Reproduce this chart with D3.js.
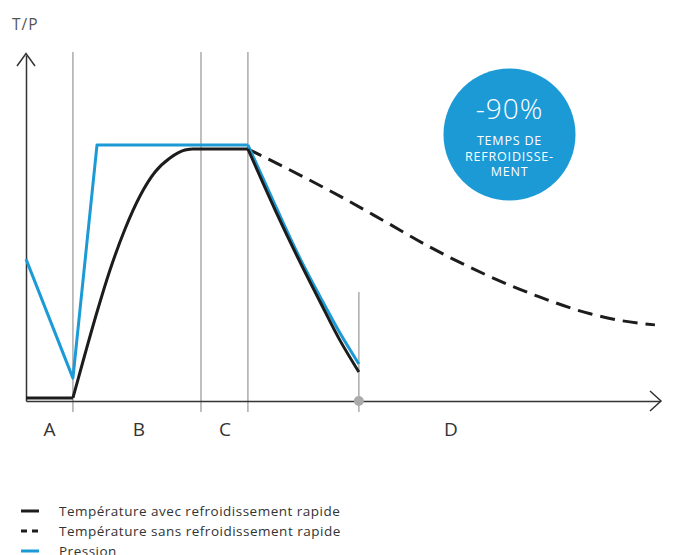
<!DOCTYPE html>
<html>
<head>
<meta charset="utf-8">
<script src="https://cdn.jsdelivr.net/npm/d3@7/dist/d3.min.js"></script>
<style>
  html, body { margin: 0; padding: 0; background: #fff; }
  svg { display: block; font-family: "Open Sans", "DejaVu Sans", sans-serif; }
</style>
</head>
<body>
<svg id="chart" width="684" height="555"></svg>
<script>
// Phase boundaries on the time axis (0–100)
const phaseBounds = [7.4, 27.6, 35.0];
const coolingEnd = 52.5;
const phaseLabels = ["A", "B", "C", "D"];
const phaseLabelPos = [3.7, 17.8, 31.4, 67.0];

// Temperature with rapid cooling, split into segments at sharp corners
const tempFast = [
  [[0, 0.9], [7.4, 0.9]],
  [[7.4, 0.9], [9.31, 13.58], [11.20, 25.72], [13.25, 37.86], [15.62, 49.71],
   [17.98, 59.25], [20.35, 66.18], [22.71, 70.23], [25.08, 72.54], [26.18, 72.83]],
  [[26.18, 72.83], [35.0, 72.83]],
  [[35.0, 72.83], [39.3, 55.2], [43.2, 40.2], [46.4, 28.6], [49.5, 17.6], [52.5, 8.4]]
];

// Temperature without rapid cooling (dashed)
const tempSlow = [
  [35.0, 72.83], [43.2, 65.3], [49.5, 59.2], [56.6, 51.9], [63.7, 44.5],
  [72.4, 36.6], [81.1, 30.0], [89.0, 25.2], [94.0, 23.2], [99.2, 22.0]
];

// Pressure: straight ramps, then a curved decay
const pressureRamp = [[0, 41.0], [7.4, 6.6], [11.2, 74.0], [35.0, 74.0]];
const pressureDecay = [[35.0, 74.0], [39.3, 56.6], [43.2, 41.3], [46.4, 30.1], [49.5, 19.7], [52.5, 10.7]];

const legendItems = [
  "Température avec refroidissement rapide",
  "Température sans refroidissement rapide",
  "Pression"
];
const badgeValue = "-90%";
const badgeLines = ["TEMPS DE", "REFROIDISSE-", "MENT"];
const axisTitle = "T/P";

const BLUE = "#1b9ad6";
const BLACK = "#1c1c1c";
const GREY = "#ababab";
const AXIS = "#333";

const svg = d3.select("#chart");
const x = d3.scaleLinear().domain([0, 100]).range([26, 660]);
const y = d3.scaleLinear().domain([0, 100]).range([401, 55]);

const smooth = d3.line().x(d => x(d[0])).y(d => y(d[1])).curve(d3.curveMonotoneX);
const straight = d3.line().x(d => x(d[0])).y(d => y(d[1]));

// Phase separators
const sepG = svg.append("g").attr("stroke", GREY).attr("stroke-width", 1.5);
phaseBounds.forEach(b => {
  sepG.append("line")
    .attr("x1", x(b)).attr("x2", x(b))
    .attr("y1", y(100.9)).attr("y2", y(-3.2));
});
sepG.append("line")
  .attr("x1", x(coolingEnd)).attr("x2", x(coolingEnd))
  .attr("y1", y(31.5)).attr("y2", y(-3.2));

// Axes
const xAxis = d3.axisBottom(x).tickValues([]).tickSizeOuter(0);
svg.append("g").attr("transform", `translate(0,${y(0)})`).call(xAxis)
  .select(".domain").attr("stroke", AXIS).attr("stroke-width", 1.5);
const yAxis = d3.axisLeft(y).tickValues([]).tickSizeOuter(0);
svg.append("g").attr("transform", `translate(${x(0)},0)`).call(yAxis)
  .select(".domain").attr("stroke", AXIS).attr("stroke-width", 1.5);

// Arrow heads
svg.append("path")
  .attr("d", `M${x(0) - 9},${y(100) + 11} L${x(0)},${y(100) - 1.5} L${x(0) + 9},${y(100) + 11}`)
  .attr("fill", "none").attr("stroke", AXIS).attr("stroke-width", 1.5);
svg.append("path")
  .attr("d", `M${x(100) - 10},${y(0) - 10} L${x(100) + 1},${y(0)} L${x(100) - 10},${y(0) + 10}`)
  .attr("fill", "none").attr("stroke", AXIS).attr("stroke-width", 1.5);

// Series
svg.append("path").datum(tempSlow)
  .attr("d", smooth).attr("fill", "none")
  .attr("stroke", BLACK).attr("stroke-width", 3).attr("stroke-dasharray", "15,8");

svg.append("path").datum(pressureRamp).attr("d", straight)
  .attr("fill", "none").attr("stroke", BLUE).attr("stroke-width", 3)
  .attr("stroke-linejoin", "round");
svg.append("path").datum(pressureDecay).attr("d", smooth)
  .attr("fill", "none").attr("stroke", BLUE).attr("stroke-width", 3)
  .attr("stroke-linejoin", "round");

tempFast.forEach(seg => {
  svg.append("path").datum(seg).attr("d", smooth)
    .attr("fill", "none").attr("stroke", BLACK).attr("stroke-width", 3)
    .attr("stroke-linejoin", "round");
});

// End-of-cooling marker on the axis
svg.append("circle").attr("cx", x(coolingEnd)).attr("cy", y(0)).attr("r", 5).attr("fill", GREY);

// Axis title
svg.append("text").attr("x", 12).attr("y", 30)
  .attr("font-size", 15.5).attr("letter-spacing", 1).attr("fill", "#555").text(axisTitle);

// Phase labels
svg.append("g").selectAll("text").data(phaseLabels).join("text")
  .attr("x", (d, i) => x(phaseLabelPos[i]))
  .attr("y", 436)
  .attr("text-anchor", "middle")
  .attr("font-size", 19)
  .attr("fill", "#333")
  .text(d => d);

// Badge
const badge = svg.append("g").attr("transform", "translate(509.5,134.5)");
badge.append("circle").attr("r", 66).attr("fill", BLUE);
badge.append("text").attr("y", -15.5).attr("text-anchor", "middle")
  .attr("font-size", 28).attr("letter-spacing", 1).attr("font-weight", 300)
  .attr("fill", "#fff").text(badgeValue);
badge.selectAll("text.sub").data(badgeLines).join("text")
  .attr("class", "sub")
  .attr("y", (d, i) => 10.5 + i * 15.5)
  .attr("text-anchor", "middle")
  .attr("font-size", 12.5)
  .attr("letter-spacing", 0.8)
  .attr("fill", "#fff")
  .text(d => d);

// Legend
const legend = svg.append("g");
const legendStyles = [
  { stroke: BLACK, dash: null },
  { stroke: BLACK, dash: "6,5" },
  { stroke: BLUE, dash: null }
];
legendItems.forEach((t, i) => {
  const ly = 511 + i * 20;
  legend.append("line")
    .attr("x1", 21).attr("x2", 39).attr("y1", ly).attr("y2", ly)
    .attr("stroke", legendStyles[i].stroke).attr("stroke-width", 3)
    .attr("stroke-dasharray", legendStyles[i].dash);
  legend.append("text").attr("x", 59).attr("y", ly + 4.5)
    .attr("font-size", 13.5).attr("letter-spacing", 0.5).attr("fill", "#333").text(t);
});
</script>
</body>
</html>
